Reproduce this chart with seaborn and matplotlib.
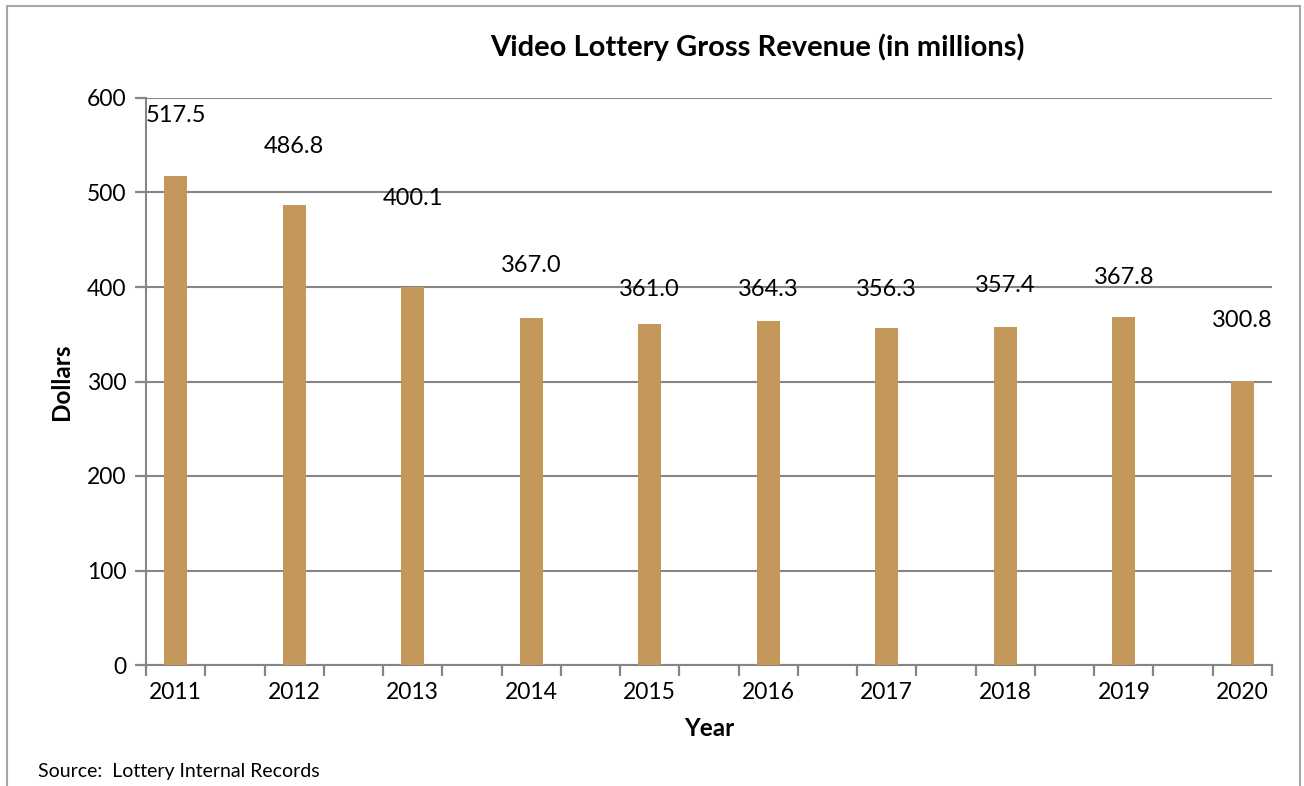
import numpy as np
import pandas as pd
import matplotlib.pyplot as plt
import seaborn as sns
from matplotlib.patches import Rectangle

years = [2011, 2012, 2013, 2014, 2015, 2016, 2017, 2018, 2019, 2020]
revenue = [517.5, 486.8, 400.1, 367.0, 361.0, 364.3, 356.3, 357.4, 367.8, 300.8]
# how far above each bar its label sits (data units), as in the original layout
label_lift = [64, 62, 94, 56, 36, 33, 41, 44, 42, 64]

sns.set_theme(style="white")
plt.rcParams['font.family'] = ['Lato', 'DejaVu Sans']
plt.rcParams['text.color'] = 'black'

df = pd.DataFrame({'Year': years, 'Revenue': revenue})

fig = plt.figure(figsize=(13.04, 7.86), dpi=100)
ax = fig.add_axes([146 / 1304, 1 - 665 / 786, (1272 - 146) / 1304, (665 - 98) / 786])

sns.barplot(data=df, x='Year', y='Revenue', native_scale=True, width=0.195,
            color='#C4985A', saturation=1, linewidth=0, ax=ax, zorder=3)

for yr, val, lift in zip(years, revenue, label_lift):
    ax.text(yr, val + lift, f"{val:.1f}", ha='center', va='center', fontsize=17, color='black', zorder=4)

ax.set_xlim(2010.75, 2020.25)
ax.set_ylim(0, 600)
# tick marks every half slot (unlabelled), year labels on minor ticks without marks
ax.set_xticks(np.arange(2010.75, 2020.3, 0.5))
ax.set_xticklabels([])
ax.set_xticks(years, minor=True)
ax.set_xticklabels([str(y) for y in years], minor=True)
ax.set_yticks(range(0, 601, 100))

ax.grid(axis='y', color='#868686', linewidth=1.5, zorder=0)
ax.set_axisbelow(True)
for side in ['top', 'right']:
    ax.spines[side].set_visible(False)
for side in ['left', 'bottom']:
    ax.spines[side].set_color('#868686')
    ax.spines[side].set_linewidth(1.5)

ax.tick_params(axis='x', which='major', length=8, width=1.6, color='#868686', direction='out', bottom=True)
ax.tick_params(axis='x', which='minor', length=0, labelsize=16.5, pad=12, labelcolor='black', bottom=True)
ax.tick_params(axis='y', which='major', length=8, width=1.6, color='#868686', direction='out', left=True,
               labelsize=16.5, labelcolor='black', pad=6)

ax.set_xlabel('Year', fontsize=17.5, fontweight='bold', labelpad=10, color='black')
ax.set_ylabel('Dollars', fontsize=17.5, fontweight='bold', labelpad=10, color='black')

fig.text(757 / 1304, 1 - 47 / 786, 'Video Lottery Gross Revenue (in millions)', ha='center', va='center',
         fontsize=21, fontweight='bold', color='black')
fig.text(38 / 1304, 1 - 771 / 786, 'Source:  Lottery Internal Records', ha='left', va='center',
         fontsize=14, color='black')

fig.patches.append(Rectangle((7 / 1304, -0.05), (1300 - 7) / 1304, 1 - 6 / 786 + 0.05,
                             transform=fig.transFigure, fill=False, edgecolor='#A6A6A6', linewidth=1.5))

fig.savefig('out.png', dpi=100)
